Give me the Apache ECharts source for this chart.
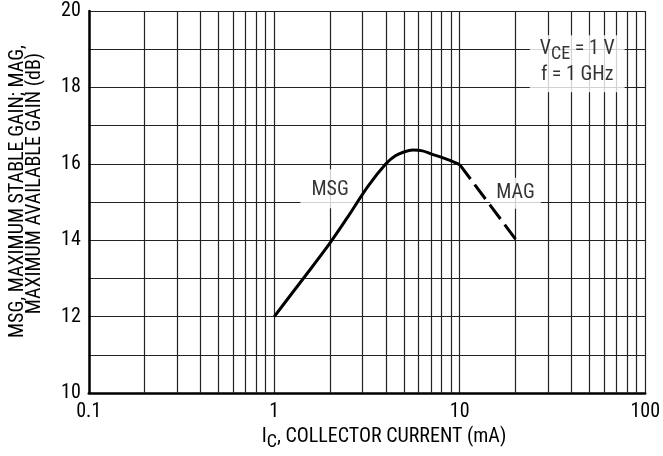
<!DOCTYPE html>
<html>
<head>
<meta charset="utf-8">
<script src="https://cdn.jsdelivr.net/npm/echarts@6/dist/echarts.min.js"></script>
<style>
html,body{margin:0;padding:0;background:#fff;}
#chart{width:663px;height:456px;}
</style>
</head>
<body>
<div id="chart"></div>
<script>
// ---- data ----
const msgCurrent = [1, 1.25, 1.6, 2, 2.5, 3.2, 4, 4.5, 5, 5.6, 6.3, 7, 8, 9, 10];
const msgGain    = [12, 12.62, 13.3, 13.93, 14.62, 15.41, 16.0, 16.21, 16.31, 16.36, 16.34, 16.26, 16.17, 16.08, 15.98];
const magCurrent = [10, 20];
const magGain    = [15.98, 14.03];
const xMinorGrid = [0.2,0.3,0.4,0.5,0.6,0.7,0.8,0.9, 2,3,4,5,6,7,8,9, 20,30,40,50,60,70,80,90];
const noteX = [2, 20, 43];
const noteY = [15.35, 15.23, 18.62];
const noteText = ['MSG', 'MAG', '{v|V}{s|CE}{v| = 1 V}\n{v|f = 1 GHz}'];

const FONT = '"Roboto Condensed", "Liberation Sans", Arial, sans-serif';

const chart = echarts.init(document.getElementById('chart'), null, {renderer: 'canvas'});

const notePads = [[11, 11, 8, 11], [5, 6, 6, 6], [4, 10, 1, 10]];
const noteData = noteX.map((x, i) => ({
  value: [x, noteY[i]],
  label: {formatter: noteText[i], padding: notePads[i]}
}));

const option = {
  animation: false,
  backgroundColor: '#fff',
  textStyle: {fontFamily: FONT},
  grid: {left: 88, right: 15, top: 11, bottom: 61.5, show: false},
  xAxis: {
    type: 'log',
    logBase: 10,
    min: 0.1,
    max: 100,
    z: 0,
    axisLine: {show: true, onZero: false, lineStyle: {color: '#000', width: 2.5}},
    axisTick: {show: false},
    axisLabel: {
      color: '#000', fontSize: 20, fontFamily: FONT, margin: 9,
      formatter: v => (v < 1 ? v.toFixed(1) : String(Math.round(v)))
    },
    splitLine: {show: true, lineStyle: {color: '#222', width: 1.2}},
    name: '{v|I}{s|C}{v|, COLLECTOR CURRENT (mA)}',
    nameLocation: 'middle',
    nameGap: 31,
    nameTextStyle: {
      fontFamily: FONT, color: '#000', padding: [0, 0, 0, 34],
      rich: {
        v: {fontSize: 20, fontFamily: FONT, color: '#000', verticalAlign: 'top', lineHeight: 20},
        s: {fontSize: 18, fontFamily: FONT, color: '#000', verticalAlign: 'top', lineHeight: 20, padding: [6, 0, 0, 0]}
      }
    }
  },
  yAxis: {
    type: 'value',
    min: 10,
    max: 20,
    interval: 1,
    z: 0,
    axisLine: {show: true, onZero: false, lineStyle: {color: '#000', width: 2.5}},
    axisTick: {show: false},
    axisLabel: {
      color: '#000', fontSize: 20, fontFamily: FONT, margin: 8,
      formatter: v => (v % 2 === 0 ? String(v) : '')
    },
    splitLine: {show: true, lineStyle: {color: '#222', width: 1.2}},
    name: '{a|MSG, MAXIMUM STABLE GAIN; MAG,}\n{b|MAXIMUM AVAILABLE GAIN (dB)}',
    nameLocation: 'middle',
    nameRotate: 90,
    nameGap: 46,
    nameTextStyle: {
      fontFamily: FONT, color: '#000', align: 'center', padding: [0, 0, 0, 21],
      rich: {
        a: {fontSize: 20, fontFamily: FONT, color: '#000', lineHeight: 16.5},
        b: {fontSize: 20, fontFamily: FONT, color: '#000', lineHeight: 16.5, padding: [0, 0, 0, 16]}
      }
    }
  },
  series: [
    {
      name: 'grid',
      type: 'line',
      data: [],
      z: 1,
      silent: true,
      markLine: {
        z: 1,
        silent: true,
        symbol: 'none',
        label: {show: false},
        lineStyle: {color: '#222', width: 1.2, type: 'solid'},
        data: xMinorGrid.map(v => ({xAxis: v}))
      }
    },
    {
      name: 'notes',
      type: 'scatter',
      z: 3,
      symbolSize: 0,
      silent: true,
      data: noteData,
      label: {
        show: true,
        position: 'inside',
        backgroundColor: '#fff',
        color: '#000',
        fontSize: 20,
        fontFamily: FONT,
        rich: {
          v: {fontSize: 20, fontFamily: FONT, color: '#000', verticalAlign: 'top', lineHeight: 26},
          s: {fontSize: 18, fontFamily: FONT, color: '#000', verticalAlign: 'top', lineHeight: 26, padding: [6, 0, 0, 0]}
        }
      }
    },
    {
      name: 'MSG',
      type: 'line',
      z: 5,
      smooth: 0.3,
      symbol: 'none',
      lineStyle: {color: '#000', width: 3},
      data: msgCurrent.map((x, i) => [x, msgGain[i]])
    },
    {
      name: 'MAG',
      type: 'line',
      z: 5,
      symbol: 'none',
      lineStyle: {color: '#000', width: 3, type: [18, 7]},
      data: magCurrent.map((x, i) => [x, magGain[i]])
    }
  ]
};
chart.setOption(option);
</script>
</body>
</html>
